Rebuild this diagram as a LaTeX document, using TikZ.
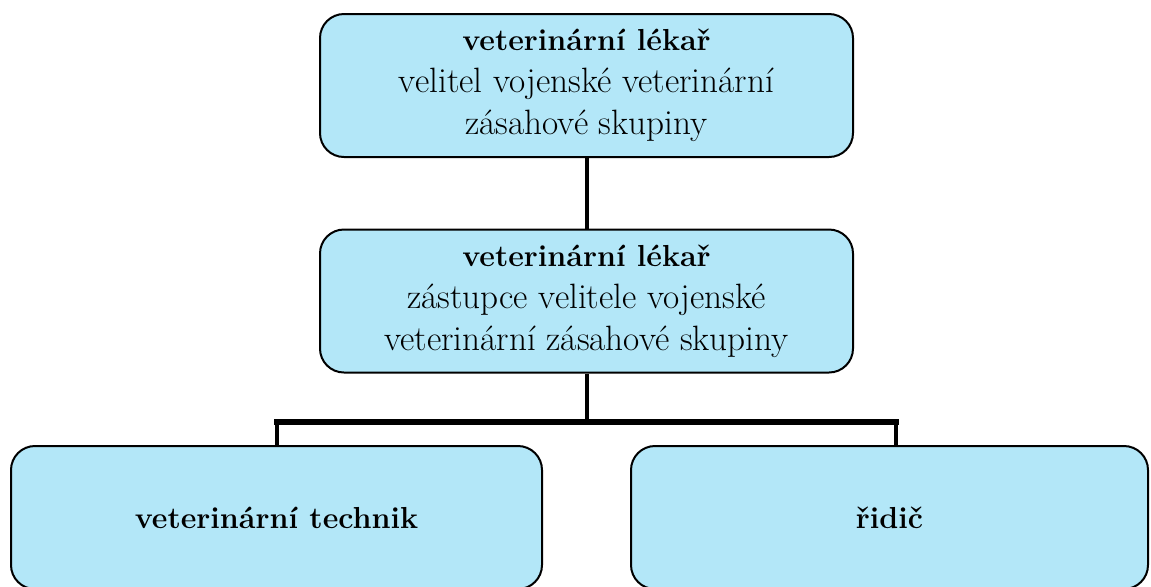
\documentclass[tikz,border=0pt]{standalone}
\usepackage{tikz}

\begin{document}
\begin{tikzpicture}
      [
      x=0.5pt,y=-0.5pt,
      role/.style={rectangle,rounded corners=12pt,draw=black,line width=1pt,fill=roleblue,
        align=center,font=\fontsize{17.6}{21}\selectfont,inner sep=0pt},
      head/.style={font=\fontsize{15.2}{21}\selectfont\bfseries},
      wide/.style={minimum width=266.5pt,minimum height=71.5pt},
      link/.style={line width=2pt,draw=black},
      bar/.style={line width=3pt,draw=black}
      ]
      \definecolor{roleblue}{RGB}{179,231,248}
      \useasboundingbox (0,0) rectangle (1151,586);
      \begin{scope}
      \clip (0,0) rectangle (1151,586);
      \node (velitel) at (586.5,85.5) [role,wide] {{\fontsize{15.2}{21}\selectfont\bfseries veterinární lékař}\\velitel vojenské veterinární\\zásahové skupiny};
      \node (zastupce) at (586.5,301) [role,wide] {{\fontsize{15.2}{21}\selectfont\bfseries veterinární lékař}\\zástupce velitele vojenské\\veterinární zásahové skupiny};
      \node (technik) at (276.5,517.5) [role,head,minimum width=265.5pt,minimum height=71.5pt] {veterinární technik};
      \node (ridic) at (889.5,517.5) [role,head,minimum width=258.5pt,minimum height=71.5pt] {řidič};
      \end{scope}
      \coordinate (split) at (586.5,422);
      \coordinate (left) at (277,422);
      \coordinate (right) at (896,422);
      \draw [link] (velitel) -- (zastupce);
      \draw [link] (zastupce) -- (split);
      \draw [bar, line cap=rect] (left) -- (right);
      \draw [link] (left) -- (left |- technik.north);
      \draw [link] (right) -- (right |- ridic.north);
    \end{tikzpicture}
\end{document}
